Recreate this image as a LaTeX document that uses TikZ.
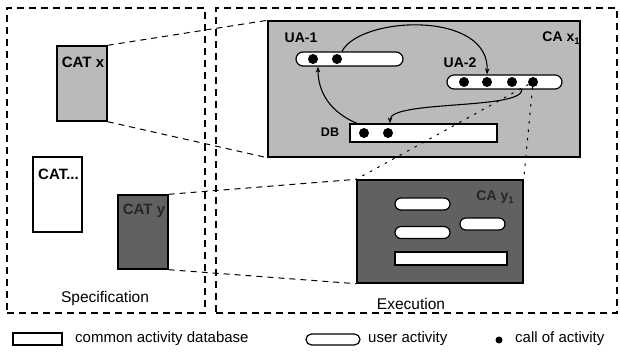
\documentclass[tikz,border=0pt]{standalone}
\usepackage{fontspec}
\setmainfont{Liberation Sans}
\usetikzlibrary{arrows.meta}

\colorlet{lightfill}{black!27}
\colorlet{darkfill}{black!62}

\newcommand{\sub}[1]{\raisebox{-3pt}{\fontsize{9.5}{10}\selectfont #1}}

\begin{document}
\begin{tikzpicture}[
  x=1pt, y=-1pt,
  area/.style={draw, line width=1.6pt, dash pattern=on 7pt off 5pt, inner sep=0pt},
  catbox/.style={draw, line width=1.4pt, inner sep=0pt, minimum width=50pt, minimum height=75pt},
  cabox/.style={draw, line width=1.4pt, inner sep=0pt},
  uact/.style={draw, line width=1.2pt, fill=white, rounded corners=7pt, inner sep=0pt, minimum height=14pt},
  cadb/.style={draw, line width=1.2pt, fill=white, inner sep=0pt, minimum height=18pt},
  calldot/.style={circle, fill=black, inner sep=0pt, minimum size=10pt},
  boxlabel/.style={font=\fontsize{14}{16}\selectfont\bfseries, inner sep=0pt},
  catlabel/.style={font=\fontsize{15}{17}\selectfont\bfseries, inner sep=0pt},
  arealabel/.style={font=\fontsize{15.5}{18}\selectfont},
  legendlabel/.style={font=\fontsize{15}{18}\selectfont, anchor=west, inner sep=0pt},
  zoomline/.style={line width=1pt, dash pattern=on 6pt off 5pt},
  callline/.style={line width=1pt, dash pattern=on 2.5pt off 6pt},
  flow/.style={line width=1.1pt, -{Stealth[length=6pt, width=4.5pt]}},
]
\useasboundingbox (0,0) rectangle (620,355);

% ─── Specification / Execution areas ──────────────────────────────────────
\node[area, minimum width=198pt, minimum height=305pt] (spec) at (106,160.5) {};
\node[area, minimum width=401pt, minimum height=305pt] (exec) at (416.5,160.5) {};
\node[arealabel] (speclabel) at (105,298) {Specification};
\node[arealabel] (execlabel) at (411,304) {Execution};

% ─── Common activity types ────────────────────────────────────────────────
\node[catbox, fill=lightfill] (catx) at (82,83.5) {};
\node[catbox, fill=white, minimum width=49pt, minimum height=75pt] (catdots) at (57.5,194.5) {};
\node[catbox, fill=darkfill, minimum width=50pt, minimum height=74pt] (caty) at (143,232) {};
\node[catlabel] (catxlabel) at (83,62.5) {CAT x};
\node[catlabel] (catdotslabel) at (58.5,174) {CAT...};
\node[catlabel, text=black!85] (catylabel) at (144,211) {CAT y};

% ─── CA x1 ────────────────────────────────────────────────────────────────
\node[cabox, fill=lightfill, minimum width=312pt, minimum height=136pt] (cax) at (424,89) {};
\node[boxlabel] (caxlabel) at (561,38) {CA x\sub{1}};

\node[uact, minimum width=107pt] (ua1) at (349.5,59) {};
\node[uact, minimum width=115pt] (ua2) at (504.5,82) {};
\node[cadb, minimum width=147pt] (db) at (423.5,133) {};
\node[boxlabel] (ua1label) at (301,38) {UA-1};
\node[boxlabel] (ua2label) at (460,63) {UA-2};
\node[boxlabel, font=\fontsize{12.5}{14}\selectfont\bfseries] (dblabel) at (330,132) {DB};

\foreach \x [count=\i] in {313,337} \node[calldot] (c1\i) at (\x,59) {};
\foreach \x [count=\i] in {464,487,512,533} \node[calldot] (c2\i) at (\x,82) {};
\foreach \x [count=\i] in {364,388} \node[calldot] (c3\i) at (\x,133) {};

\draw[flow] ([xshift=-7.5pt]ua1.north) .. controls (360,16) and (490,10) .. ([xshift=-17.5pt]ua2.north);
\draw[flow] ([xshift=17.5pt]ua2.south) .. controls (522,110) and (390,100) .. ([xshift=-33.5pt]db.north);
\draw[flow] ([xshift=-66.5pt]db.north) .. controls (330,112) and (318,92) .. ([xshift=-31.5pt]ua1.south);

% ─── CA y1 ────────────────────────────────────────────────────────────────
\node[cabox, fill=darkfill, minimum width=166pt, minimum height=103pt] (cay) at (440,231.5) {};
\node[boxlabel, text=black!85] (caylabel) at (495,197) {CA y\sub{1}};
\node[uact, minimum width=55pt, minimum height=12pt, rounded corners=6pt] (yua1) at (422.5,204) {};
\node[uact, minimum width=45pt, minimum height=12pt, rounded corners=6pt] (yua2) at (482.5,224) {};
\node[uact, minimum width=55pt, minimum height=12pt, rounded corners=6pt] (yua3) at (422.5,232.5) {};
\node[cadb, minimum width=112pt, minimum height=13pt] (ydb) at (451,258.5) {};

% ─── Refinement lines ─────────────────────────────────────────────────────
\draw[zoomline] (catx.north east) -- (cax.north west);
\draw[zoomline] (catx.south east) -- (cax.south west);
\draw[zoomline] (caty.north east) -- (cay.north west);
\draw[zoomline] (caty.south east) -- (cay.south west);
\draw[callline] (c24) -- (cay.north east);
\draw[callline] (c24) -- (cay.north west);

% ─── Legend ───────────────────────────────────────────────────────────────
\node[cadb, minimum width=49pt, minimum height=12pt] (legdb) at (37.5,339) {};
\node[legendlabel] (legdbtext) at (75,339) {common activity database};
\node[uact, minimum width=54pt, minimum height=11pt, rounded corners=5.5pt] (legua) at (333,339.5) {};
\node[legendlabel] (leguatext) at (368,339) {user activity};
\node[calldot, minimum size=7pt] (legcall) at (499,340) {};
\node[legendlabel] (legcalltext) at (515,339) {call of activity};

\end{tikzpicture}
\end{document}
